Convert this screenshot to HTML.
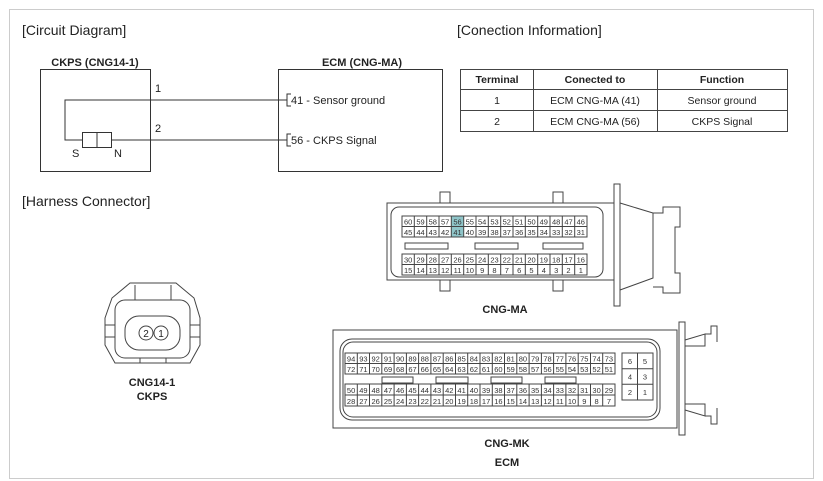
<!DOCTYPE html>
<html><head><meta charset="utf-8"><style>
body{margin:0;background:#fff}
svg{display:block;font-family:"Liberation Sans",Arial,sans-serif}
.p{font-size:7.5px;fill:#333;text-anchor:middle}
</style></head><body>
<svg width="823" height="481" viewBox="0 0 823 481" xmlns="http://www.w3.org/2000/svg">
<rect x="9.5" y="9.5" width="804" height="469" fill="#fff" stroke="#ccc"/>
<g fill="#222" font-size="14">
<text x="22" y="35">[Circuit Diagram]</text>
<text x="457" y="35">[Conection Information]</text>
<text x="22" y="206">[Harness Connector]</text>
</g>
<g font-size="11" font-weight="bold" text-anchor="middle" fill="#222">
<text x="95" y="66">CKPS (CNG14-1)</text>
<text x="362" y="66">ECM (CNG-MA)</text>
</g>
<g fill="none" stroke="#333" stroke-width="1">
<rect x="40.5" y="69.5" width="110" height="102"/>
<rect x="278.5" y="69.5" width="164" height="102"/>
<path d="M287 100H65V140H82M112 140H287"/>
<rect x="82.5" y="132.5" width="29" height="15"/>
<path d="M97 132v15"/>
<path d="M291 94h-4v12h4M291 134h-4v12h4"/>
</g>
<g font-size="11" fill="#222">
<text x="155" y="92">1</text><text x="155" y="132">2</text>
<text x="72" y="157">S</text><text x="114" y="157">N</text>
<text x="291" y="104">41 - Sensor ground</text>
<text x="291" y="144">56 - CKPS Signal</text>
</g>
<g fill="none" stroke="#444">
<rect x="460.5" y="69.5" width="327" height="62"/>
<path d="M460 89.5h328M460 110.5h328M533.5 69v63M657.5 69v63"/>
</g>
<g font-size="10.5" text-anchor="middle" fill="#222">
<text x="497" y="83" font-weight="bold">Terminal</text>
<text x="595" y="83" font-weight="bold">Conected to</text>
<text x="722" y="83" font-weight="bold">Function</text>
<text x="497" y="104">1</text><text x="595" y="104">ECM CNG-MA (41)</text><text x="722" y="104">Sensor ground</text>
<text x="497" y="125">2</text><text x="595" y="125">ECM CNG-MA (56)</text><text x="722" y="125">CKPS Signal</text>
</g>
<g fill="none" stroke="#444">
<path d="M105 318 L112 298 L130 283 H176 L194 298 L200 318 V345 L190 363 H115 L105 345 Z"/>
<path d="M135 285v15h36v-15"/>
<rect x="115" y="300" width="75" height="58" rx="10"/>
<rect x="105" y="325" width="10" height="12"/><rect x="190" y="325" width="10" height="12"/>
<rect x="125" y="316" width="55" height="34" rx="14"/>
<circle cx="146" cy="333" r="7"/><circle cx="161" cy="333" r="7"/>
<path d="M140 358v5M166 358v5"/>
</g>
<g font-size="10" text-anchor="middle" fill="#222"><text x="146" y="337">2</text><text x="161" y="337">1</text></g>
<g font-size="11" font-weight="bold" text-anchor="middle" fill="#222">
<text x="152" y="386">CNG14-1</text><text x="152" y="400">CKPS</text>
<text x="505" y="313">CNG-MA</text>
<text x="507" y="447">CNG-MK</text><text x="507" y="466">ECM</text>
</g>
<g fill="none" stroke="#444">
<path d="M387 203H614V280H387Z"/>
<rect x="391" y="207" width="212" height="70" rx="8"/>
<rect x="614" y="184" width="6" height="122"/>
<path d="M620 203L653 213V278L620 290M653 213h10v-6h17v20h-5v46h5v20h-17v-6h-10"/>
<path d="M440 203v-11h10v11M553 203v-11h10v11M440 280v11h10v-11M553 280v11h10v-11"/>
<rect x="451.3" y="216" width="12.4" height="21" fill="#8fc5c9" stroke="none"/>
<rect x="402" y="216" width="185" height="21"/><path d="M402 226.5h185"/>
<rect x="402" y="254" width="185" height="21"/><path d="M402 264.5h185"/>
<path d="M414.3 216v21M426.7 216v21M439 216v21M451.3 216v21M463.7 216v21M476 216v21M488.3 216v21M500.7 216v21M513 216v21M525.3 216v21M537.7 216v21M550 216v21M562.3 216v21M574.7 216v21"/>
<path d="M414.3 254v21M426.7 254v21M439 254v21M451.3 254v21M463.7 254v21M476 254v21M488.3 254v21M500.7 254v21M513 254v21M525.3 254v21M537.7 254v21M550 254v21M562.3 254v21M574.7 254v21"/>
<rect x="405" y="243" width="43" height="6"/><rect x="475" y="243" width="43" height="6"/><rect x="543" y="243" width="40" height="6"/>
</g>
<g class="p">
<text x="408.2" y="224.5">60</text><text x="420.5" y="224.5">59</text><text x="432.8" y="224.5">58</text><text x="445.2" y="224.5">57</text><text x="457.5" y="224.5">56</text><text x="469.8" y="224.5">55</text><text x="482.2" y="224.5">54</text><text x="494.5" y="224.5">53</text><text x="506.8" y="224.5">52</text><text x="519.2" y="224.5">51</text><text x="531.5" y="224.5">50</text><text x="543.8" y="224.5">49</text><text x="556.2" y="224.5">48</text><text x="568.5" y="224.5">47</text><text x="580.8" y="224.5">46</text>
<text x="408.2" y="235">45</text><text x="420.5" y="235">44</text><text x="432.8" y="235">43</text><text x="445.2" y="235">42</text><text x="457.5" y="235">41</text><text x="469.8" y="235">40</text><text x="482.2" y="235">39</text><text x="494.5" y="235">38</text><text x="506.8" y="235">37</text><text x="519.2" y="235">36</text><text x="531.5" y="235">35</text><text x="543.8" y="235">34</text><text x="556.2" y="235">33</text><text x="568.5" y="235">32</text><text x="580.8" y="235">31</text>
<text x="408.2" y="262.5">30</text><text x="420.5" y="262.5">29</text><text x="432.8" y="262.5">28</text><text x="445.2" y="262.5">27</text><text x="457.5" y="262.5">26</text><text x="469.8" y="262.5">25</text><text x="482.2" y="262.5">24</text><text x="494.5" y="262.5">23</text><text x="506.8" y="262.5">22</text><text x="519.2" y="262.5">21</text><text x="531.5" y="262.5">20</text><text x="543.8" y="262.5">19</text><text x="556.2" y="262.5">18</text><text x="568.5" y="262.5">17</text><text x="580.8" y="262.5">16</text>
<text x="408.2" y="273">15</text><text x="420.5" y="273">14</text><text x="432.8" y="273">13</text><text x="445.2" y="273">12</text><text x="457.5" y="273">11</text><text x="469.8" y="273">10</text><text x="482.2" y="273">9</text><text x="494.5" y="273">8</text><text x="506.8" y="273">7</text><text x="519.2" y="273">6</text><text x="531.5" y="273">5</text><text x="543.8" y="273">4</text><text x="556.2" y="273">3</text><text x="568.5" y="273">2</text><text x="580.8" y="273">1</text>
</g>
<g fill="none" stroke="#444">
<path d="M333 330H677V428H333Z"/>
<rect x="340" y="339" width="320" height="81" rx="12"/>
<rect x="343" y="342" width="314" height="75" rx="10"/>
<rect x="679" y="322" width="6" height="113"/>
<path d="M685 340L705 334V346H685M685 410L705 416V404H685"/>
<path d="M705 334h6v-8h6v16M705 416h6v8h6v-16"/>
<rect x="345" y="353" width="270" height="21"/><path d="M345 363.5h270"/>
<rect x="345" y="384" width="270" height="22"/><path d="M345 395h270"/>
<path d="M357.3 353v21M369.5 353v21M381.8 353v21M394.1 353v21M406.4 353v21M418.6 353v21M430.9 353v21M443.2 353v21M455.5 353v21M467.7 353v21M480 353v21M492.3 353v21M504.5 353v21M516.8 353v21M529.1 353v21M541.4 353v21M553.6 353v21M565.9 353v21M578.2 353v21M590.5 353v21M602.7 353v21"/>
<path d="M357.3 384v22M369.5 384v22M381.8 384v22M394.1 384v22M406.4 384v22M418.6 384v22M430.9 384v22M443.2 384v22M455.5 384v22M467.7 384v22M480 384v22M492.3 384v22M504.5 384v22M516.8 384v22M529.1 384v22M541.4 384v22M553.6 384v22M565.9 384v22M578.2 384v22M590.5 384v22M602.7 384v22"/>
<rect x="382" y="377" width="31" height="6"/><rect x="436" y="377" width="32" height="6"/><rect x="491" y="377" width="31" height="6"/><rect x="545" y="377" width="31" height="6"/>
<rect x="622" y="353" width="31" height="47"/><path d="M637.5 353v47M622 368.7h31M622 384.3h31"/>
</g>
<g class="p">
<text x="351.1" y="361.5">94</text><text x="363.4" y="361.5">93</text><text x="375.7" y="361.5">92</text><text x="388" y="361.5">91</text><text x="400.2" y="361.5">90</text><text x="412.5" y="361.5">89</text><text x="424.8" y="361.5">88</text><text x="437" y="361.5">87</text><text x="449.3" y="361.5">86</text><text x="461.6" y="361.5">85</text><text x="473.9" y="361.5">84</text><text x="486.1" y="361.5">83</text><text x="498.4" y="361.5">82</text><text x="510.7" y="361.5">81</text><text x="522.9" y="361.5">80</text><text x="535.2" y="361.5">79</text><text x="547.5" y="361.5">78</text><text x="559.8" y="361.5">77</text><text x="572" y="361.5">76</text><text x="584.3" y="361.5">75</text><text x="596.6" y="361.5">74</text><text x="608.9" y="361.5">73</text>
<text x="351.1" y="372">72</text><text x="363.4" y="372">71</text><text x="375.7" y="372">70</text><text x="388" y="372">69</text><text x="400.2" y="372">68</text><text x="412.5" y="372">67</text><text x="424.8" y="372">66</text><text x="437" y="372">65</text><text x="449.3" y="372">64</text><text x="461.6" y="372">63</text><text x="473.9" y="372">62</text><text x="486.1" y="372">61</text><text x="498.4" y="372">60</text><text x="510.7" y="372">59</text><text x="522.9" y="372">58</text><text x="535.2" y="372">57</text><text x="547.5" y="372">56</text><text x="559.8" y="372">55</text><text x="572" y="372">54</text><text x="584.3" y="372">53</text><text x="596.6" y="372">52</text><text x="608.9" y="372">51</text>
<text x="351.1" y="393">50</text><text x="363.4" y="393">49</text><text x="375.7" y="393">48</text><text x="388" y="393">47</text><text x="400.2" y="393">46</text><text x="412.5" y="393">45</text><text x="424.8" y="393">44</text><text x="437" y="393">43</text><text x="449.3" y="393">42</text><text x="461.6" y="393">41</text><text x="473.9" y="393">40</text><text x="486.1" y="393">39</text><text x="498.4" y="393">38</text><text x="510.7" y="393">37</text><text x="522.9" y="393">36</text><text x="535.2" y="393">35</text><text x="547.5" y="393">34</text><text x="559.8" y="393">33</text><text x="572" y="393">32</text><text x="584.3" y="393">31</text><text x="596.6" y="393">30</text><text x="608.9" y="393">29</text>
<text x="351.1" y="404">28</text><text x="363.4" y="404">27</text><text x="375.7" y="404">26</text><text x="388" y="404">25</text><text x="400.2" y="404">24</text><text x="412.5" y="404">23</text><text x="424.8" y="404">22</text><text x="437" y="404">21</text><text x="449.3" y="404">20</text><text x="461.6" y="404">19</text><text x="473.9" y="404">18</text><text x="486.1" y="404">17</text><text x="498.4" y="404">16</text><text x="510.7" y="404">15</text><text x="522.9" y="404">14</text><text x="535.2" y="404">13</text><text x="547.5" y="404">12</text><text x="559.8" y="404">11</text><text x="572" y="404">10</text><text x="584.3" y="404">9</text><text x="596.6" y="404">8</text><text x="608.9" y="404">7</text>
<text x="630" y="364">6</text><text x="645" y="364">5</text><text x="630" y="379.5">4</text><text x="645" y="379.5">3</text><text x="630" y="395">2</text><text x="645" y="395">1</text>
</g>
</svg>
</body></html>
